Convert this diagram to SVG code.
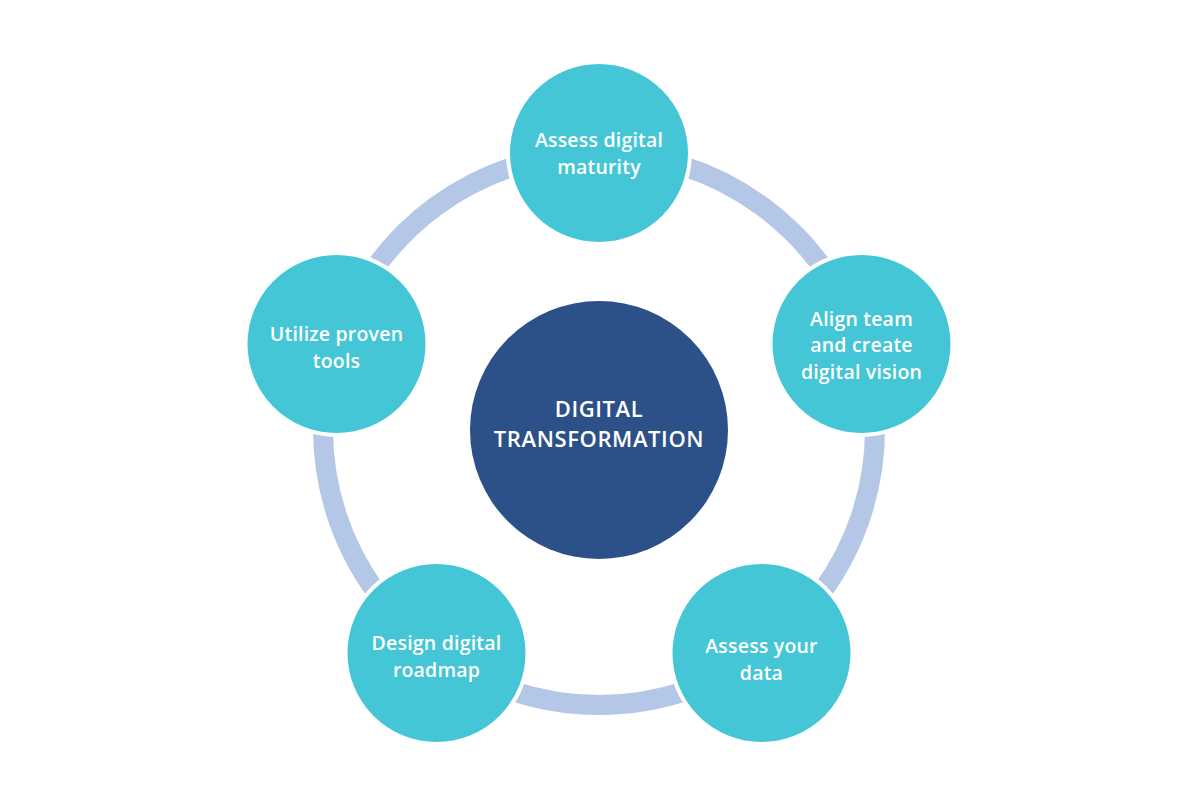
<svg xmlns="http://www.w3.org/2000/svg" width="1200" height="800" viewBox="0 0 1200 800">
<style>
.ring{fill:none;stroke:#b4c7e7;stroke-width:20}
.node{fill:#45c6d6;stroke:#ffffff;stroke-width:4}
.hub{fill:#2c5088}
.t{font-family:"Open Sans","Liberation Sans",sans-serif;font-size:19.5px;font-weight:600;fill:#ffffff;text-anchor:middle;letter-spacing:0.2px}
.h{font-family:"Open Sans","Liberation Sans",sans-serif;font-size:22px;font-weight:600;fill:#ffffff;text-anchor:middle;letter-spacing:0.6px}
</style>
<rect width="1200" height="800" fill="#ffffff"/>
<g id="connectors">
<path class="ring" d="M599,153 A276,276 0 0 1 861.5,343.7"/>
<path class="ring" d="M861.5,343.7 A276,276 0 0 1 761.2,652.3"/>
<path class="ring" d="M761.2,652.3 A276,276 0 0 1 436.8,652.3"/>
<path class="ring" d="M436.8,652.3 A276,276 0 0 1 336.5,343.7"/>
<path class="ring" d="M336.5,343.7 A276,276 0 0 1 599,153"/>
</g>
<g id="hub">
<circle class="hub" cx="599" cy="430" r="129"/>
<text class="h" x="599" y="416.5">DIGITAL</text>
<text class="h" x="599" y="446.5">TRANSFORMATION</text>
</g>
<g id="node-assess-maturity">
<circle class="node" cx="599" cy="153" r="91"/>
<text class="t" x="599" y="147">Assess digital</text>
<text class="t" x="599" y="173.5">maturity</text>
</g>
<g id="node-align-team">
<circle class="node" cx="861.5" cy="344" r="91"/>
<text class="t" x="861.5" y="325.5">Align team</text>
<text class="t" x="861.5" y="352">and create</text>
<text class="t" x="861.5" y="378.5">digital vision</text>
</g>
<g id="node-assess-data">
<circle class="node" cx="761.5" cy="653" r="91"/>
<text class="t" x="761.5" y="653">Assess your</text>
<text class="t" x="761.5" y="679.5">data</text>
</g>
<g id="node-roadmap">
<circle class="node" cx="436.5" cy="653" r="91"/>
<text class="t" x="436.5" y="650">Design digital</text>
<text class="t" x="436.5" y="676.5">roadmap</text>
</g>
<g id="node-tools">
<circle class="node" cx="336.5" cy="344" r="91"/>
<text class="t" x="336.5" y="341">Utilize proven</text>
<text class="t" x="336.5" y="367.5">tools</text>
</g>
</svg>
